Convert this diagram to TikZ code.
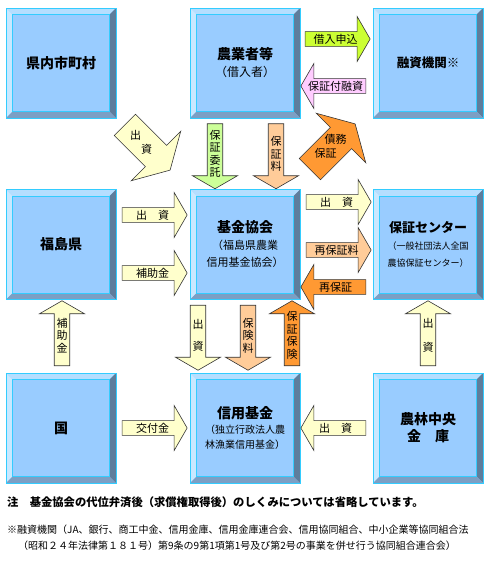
\documentclass[tikz,border=0pt]{standalone}
\usepackage{fontspec}
\setmainfont{Noto Sans CJK JP}
\usetikzlibrary{shapes.arrows, calc}
\definecolor{cface}{HTML}{99CCFF}
\definecolor{cedge}{HTML}{33CCFF}
\definecolor{cbtop}{HTML}{B5DEFF}
\definecolor{cbleft}{HTML}{C9E8FF}
\definecolor{cbright}{HTML}{5E7D9C}
\definecolor{cbbottom}{HTML}{7C9FC4}
\definecolor{cpale}{HTML}{FFFFCC}
\definecolor{clime}{HTML}{CCFF33}
\definecolor{cmint}{HTML}{CCFF99}
\definecolor{cpeach}{HTML}{FFCC99}
\definecolor{cpink}{HTML}{FFCCFF}
\definecolor{corange}{HTML}{FF9933}
\definecolor{cline}{HTML}{333333}
\newcommand{\boxsub}[1]{\mdseries\fontsize{#1}{17}\selectfont}
\tikzset{
  panel/.style={minimum width=110pt, minimum height=110pt, inner sep=0pt, align=center,
    fill=cface, draw=cedge, line width=0.8pt, font=\fontsize{14}{17}\selectfont\bfseries,
    path picture={
      \path (path picture bounding box.north west) coordinate (o1)
            (path picture bounding box.south east) coordinate (o2)
            ([shift={(6.5pt,-6.5pt)}]path picture bounding box.north west) coordinate (i1)
            ([shift={(-6.5pt,6.5pt)}]path picture bounding box.south east) coordinate (i2);
      \fill[cbtop] (o1) -- (o1 -| o2) -- (i1 -| i2) -- (i1) -- cycle;
      \fill[cbleft] (o1) -- (i1) -- (i1 |- i2) -- (o1 |- o2) -- cycle;
      \fill[cbright] (o1 -| o2) -- (o2) -- (i2) -- (i1 -| i2) -- cycle;
      \fill[cbbottom] (o1 |- o2) -- (i1 |- i2) -- (i2) -- (o2) -- cycle;
      \draw[cedge, line width=0.6pt] (i1) rectangle (i2);
    }},
  barrow/.style={single arrow, draw=cline, line width=0.6pt, fill=#1, align=center, inner sep=1pt,
    single arrow tip angle=120, minimum width=45pt, single arrow head extend=13pt,
    minimum height=65pt, font=\fontsize{11}{12.5}\selectfont},
  slant/.style={draw=cline, line width=0.6pt, fill=#1, line join=miter},
  slantlbl/.style={align=left, inner sep=0pt, font=\fontsize{11}{14}\selectfont},
  note/.style={anchor=west, inner sep=0pt, font=\fontsize{11.3}{13}\selectfont\bfseries},
  fnote/.style={anchor=west, inner sep=0pt, font=\fontsize{10}{12}\selectfont},
}

\begin{document}
\begin{tikzpicture}[x=1pt, y=-1pt]
  \useasboundingbox (0,0) rectangle (490,562);
  % boxes
  \node[panel] (towns) at (61,63) {県内市町村};
  \node[panel] (farmer) at (245,63) {農業者等\\{\boxsub{12}（借入者）}};
  \node[panel, font=\fontsize{12.5}{17}\selectfont\bfseries] (lender) at (428,63) {融資機関※};
  \node[panel] (pref) at (61,244.5) {福島県};
  \node[panel] (assoc) at (245,244.5) {基金協会\\{\boxsub{11}（福島県農業}\\{\boxsub{11}信用基金協会）}};
  \node[panel] (guar) at (428,244.5) {\fontsize{13}{17}\selectfont 保証センター\\{\boxsub{9}（一般社団法人全国}\\{\boxsub{9}農協保証センター）}};
  \node[panel] (nation) at (61,428) {国};
  \node[panel] (fund) at (245,428) {信用基金\\[-2pt]{\boxsub{10}（独立行政法人農}\\[-2pt]{\boxsub{10}林漁業信用基金）}};
  \node[panel] (bank) at (428,428) {農林中央\\金　庫};
  % block arrows
  \foreach \nm/\px/\py/\rot/\col/\txt in {
      apply/335.5/39/0/clime/借入申込, loan/335.5/86/180/cpink/保証付融資,
      entrust/215/154/270/cmint/{保\\証\\委\\託}, fee/276/154/270/cpeach/{保\\証\\料},
      prefinv/152.5/215/0/cpale/出　資, prefsub/152.5/273/0/cpale/補助金,
      associnv/336.5/202/0/cpale/出　資, refee/336.5/250/0/cpeach/再保証料,
      reguar/335.5/287/180/corange/再保証, statesub/62/335.5/90/cpale/{補\\助\\金},
      fundinv/198/335.5/270/cpale/{出\\[10pt]資}, premium/248/335.5/270/cpeach/{保\\険\\料},
      insure/292/335.5/90/corange/{保\\証\\保\\険}, bankinv/428/335.5/90/cpale/{出\\[12pt]資},
      grant/152.5/428/0/cpale/交付金, bankfund/335.5/428/180/cpale/出　資}
    \node[barrow=\col, shape border rotate=\rot] (\nm) at (\px,\py) {\txt};
  % slanted arrows
  \foreach \px/\py/\ang/\col in {147.5/147.5/-45/cpale, 332.5/146.5/45/corange}
    \draw[slant=\col, shift={(\px,\py)}, rotate=\ang]
      (-32,-15) -- (12,-15) -- (12,-35) -- (32,0) -- (12,35) -- (12,15) -- (-32,15) -- cycle;
  \node[slantlbl] (cityinv) at (141,142) {出\\\hspace*{11pt}資};
  \node[slantlbl] (debt) at (330.5,146.5) {\hspace*{10pt}債務\\保証};
  % notes
  \node[note] (remark) at (7,502) {注　基金協会の代位弁済後（求償権取得後）のしくみについては省略しています。};
  \node[fnote] (fn1) at (7,530) {※融資機関（JA、銀行、商工中金、信用金庫、信用金庫連合会、信用協同組合、中小企業等協同組合法};
  \node[fnote] (fn2) at (18,546) {（昭和２４年法律第１８１号）第9条の9第1項第1号及び第2号の事業を併せ行う協同組合連合会）};
\end{tikzpicture}
\end{document}
